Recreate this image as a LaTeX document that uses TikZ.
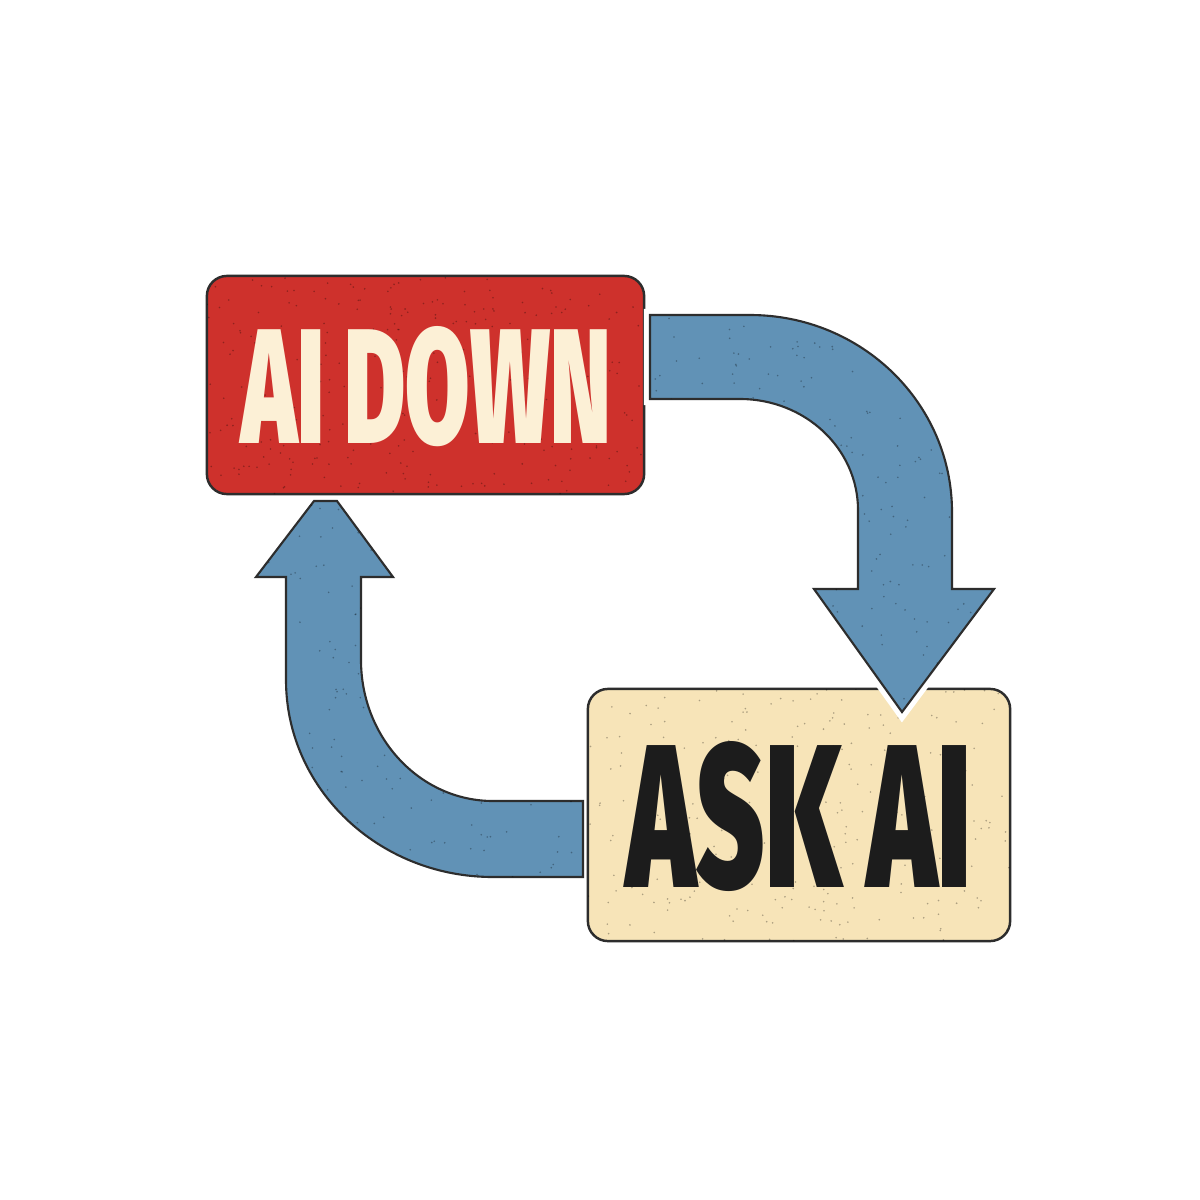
\documentclass[tikz,border=0pt]{standalone}
\usepackage{fontspec}
\newfontfamily\poster{Fira Sans Black}[FakeStretch=0.57]
\definecolor{redfill}{RGB}{206,49,44}
\definecolor{creamtext}{RGB}{252,240,214}
\definecolor{creamfill}{RGB}{247,228,184}
\definecolor{bluefill}{RGB}{97,146,182}
\definecolor{outline}{RGB}{45,45,45}
\definecolor{inkblack}{RGB}{28,28,28}
\begin{document}
\begin{tikzpicture}[x=0.01cm,y=-0.01cm,
  box/.style={draw=outline,line width=0.7pt,rounded corners=0.2cm,inner sep=0pt},
  bigarrow/.style={fill=bluefill,draw=outline,line width=0.6pt,line join=miter},
  halo/.style={preaction={draw=white,line width=3.5pt,line join=miter}},
  speck/.style={fill=black,opacity=0.3}]
\useasboundingbox[fill=white] (0,0) rectangle (1200,1200);

% boxes
\node[box,fill=redfill,minimum width=4.37cm,minimum height=2.18cm] (down) at (425.5,385) {};
\node[box,fill=creamfill,minimum width=4.22cm,minimum height=2.52cm] (ask) at (799,815) {};

% speckles
\pgfmathsetseed{7}
\begin{scope}
  \clip[rounded corners=0.2cm] (207,276) rectangle (644,494);
  \foreach \i in {1,...,300}{
    \pgfmathsetmacro\px{207+437*rnd}\pgfmathsetmacro\py{276+218*rnd}
    \fill[speck] (\px,\py) circle (0.9);}
\end{scope}
\begin{scope}
  \clip[rounded corners=0.2cm] (588,689) rectangle (1010,941);
  \foreach \i in {1,...,300}{
    \pgfmathsetmacro\px{588+422*rnd}\pgfmathsetmacro\py{689+252*rnd}
    \fill[speck] (\px,\py) circle (0.9);}
\end{scope}

% labels
\node[anchor=base,inner sep=0pt,text=creamtext,font=\poster\fontsize{46.5}{46.5}\selectfont] (downlabel) at (426,443) {AI DOWN};
\node[anchor=base,inner sep=0pt,text=inkblack,font=\poster\fontsize{58}{58}\selectfont] (asklabel) at (799,887) {ASK AI};

% arrow: AI DOWN -> ASK AI
\path[bigarrow,halo] (650,315) -- (750,315)
  arc[start angle=-90,end angle=0,x radius=202,y radius=197]
  -- (952,589) -- (994,589) -- (902,712) -- (814,589) -- (858,589) -- (858,510)
  arc[start angle=0,end angle=-90,x radius=118,y radius=111]
  -- (650,399) -- cycle;

% arrow: ASK AI -> AI DOWN
\path[bigarrow] (583,801) -- (493,801)
  arc[start angle=90,end angle=180,x radius=132,y radius=141]
  -- (361,577) -- (393,577) -- (337,501) -- (314,501) -- (256,577) -- (286,577) -- (286,680)
  arc[start angle=180,end angle=90,x radius=207,y radius=197]
  -- (583,877) -- cycle;

% speckles on arrows
\begin{scope}
  \clip (650,315) -- (750,315)
  arc[start angle=-90,end angle=0,x radius=202,y radius=197]
  -- (952,589) -- (994,589) -- (902,712) -- (814,589) -- (858,589) -- (858,510)
  arc[start angle=0,end angle=-90,x radius=118,y radius=111]
  -- (650,399) -- cycle;
  \foreach \i in {1,...,260}{
    \pgfmathsetmacro\px{650+344*rnd}\pgfmathsetmacro\py{315+397*rnd}
    \fill[speck] (\px,\py) circle (0.9);}
\end{scope}
\begin{scope}
  \clip (583,801) -- (493,801)
  arc[start angle=90,end angle=180,x radius=132,y radius=141]
  -- (361,577) -- (393,577) -- (337,501) -- (314,501) -- (256,577) -- (286,577) -- (286,680)
  arc[start angle=180,end angle=90,x radius=207,y radius=197]
  -- (583,877) -- cycle;
  \foreach \i in {1,...,260}{
    \pgfmathsetmacro\px{256+327*rnd}\pgfmathsetmacro\py{501+376*rnd}
    \fill[speck] (\px,\py) circle (0.9);}
\end{scope}
\end{tikzpicture}
\end{document}
